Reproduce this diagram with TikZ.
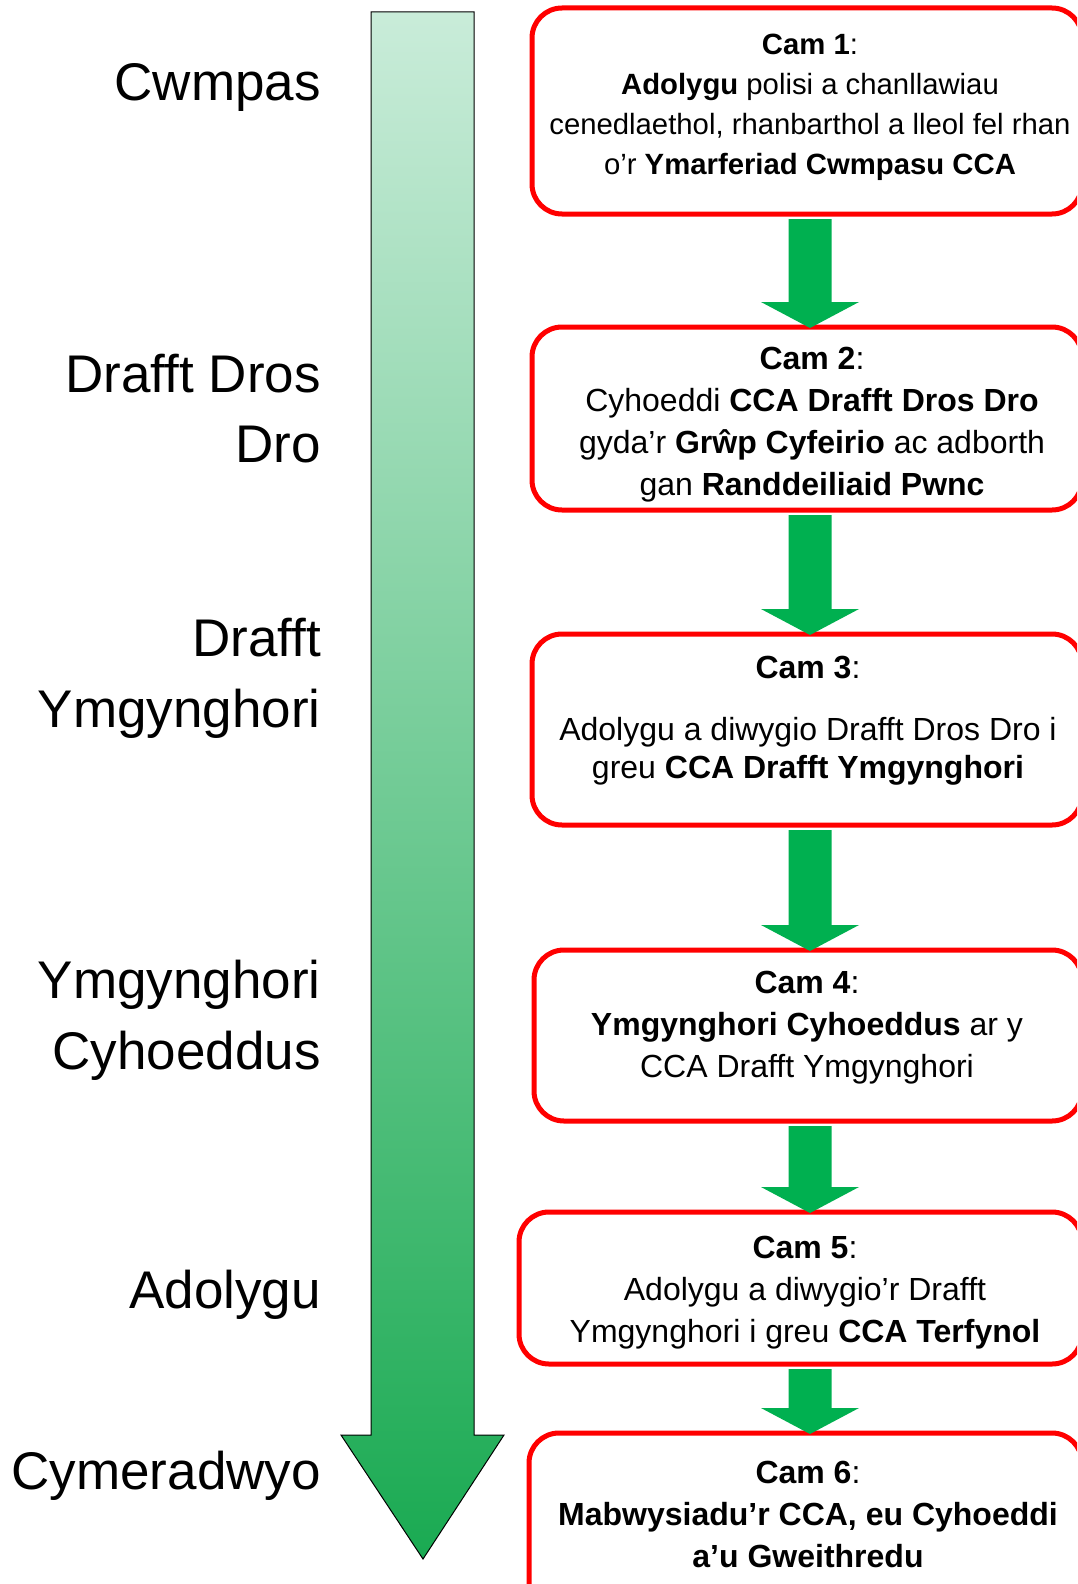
\documentclass[tikz,border=0pt]{standalone}
\usepackage{fontspec}
\setmainfont{Liberation Sans}
\usetikzlibrary{calc}
\definecolor{boxred}{RGB}{255,0,0}
\definecolor{agreen}{RGB}{0,176,80}
\definecolor{gtop}{RGB}{201,236,217}
\definecolor{gbot}{RGB}{26,170,82}
\begin{document}
\begin{tikzpicture}[x=1pt,y=-1pt,
  stepbox/.style={draw=boxred, line width=5pt, rounded corners=30pt, fill=white,
     outer sep=0pt, inner sep=0pt, anchor=north west},
  boxtext/.style={anchor=north, align=center, inner sep=0pt},
  sidelabel/.style={anchor=base east, inner sep=0pt, font=\fontsize{53}{70}\selectfont},
  garrow/.style={fill=agreen}]
\useasboundingbox (0,0) rectangle (1077,1584);
\clip (0,0) rectangle (1077,1584);
\fill[white] (0,0) rectangle (1077,1584);

% big gradient arrow
\draw[line width=1pt, top color=gtop, bottom color=gbot]
  (371,12) -- (474,12) -- (474,1435) -- (504,1435) -- (423,1559) -- (341,1435) -- (371,1435) -- cycle;

% side labels
\node[sidelabel] (l1) at (321,101) {Cwmpas};
\node[sidelabel] (l2a) at (321,392) {Drafft Dros};
\node[sidelabel] (l2b) at (321,462.5) {Dro};
\node[sidelabel] (l3a) at (321,656.5) {Drafft};
\node[sidelabel] (l3b) at (321,727) {Ymgynghori};
\node[sidelabel] (l4a) at (321,998) {Ymgynghori};
\node[sidelabel] (l4b) at (321,1069) {Cyhoeddus};
\node[sidelabel] (l5) at (321,1308) {Adolygu};
\node[sidelabel] (l6) at (321,1489) {Cymeradwyo};

% boxes
\node[stepbox, minimum width=550pt, minimum height=206pt] (b1) at (532,8) {};
\node[stepbox, minimum width=550pt, minimum height=183pt] (b2) at (532,327) {};
\node[stepbox, minimum width=550pt, minimum height=191pt] (b3) at (532,634) {};
\node[stepbox, minimum width=548pt, minimum height=171pt] (b4) at (534,950) {};
\node[stepbox, minimum width=563pt, minimum height=152pt] (b5) at (519,1212) {};
\node[stepbox, minimum width=553pt, minimum height=190pt] (b6) at (529,1433) {};

% box texts
\node[boxtext, font=\fontsize{29.3}{39.8}\selectfont] (t1) at (810,34)
  {\textbf{Cam 1}:\\ \textbf{Adolygu} polisi a chanllawiau\\ cenedlaethol, rhanbarthol a lleol fel rhan\\ o’r \textbf{Ymarferiad Cwmpasu CCA}};
\node[boxtext, font=\fontsize{32}{42.3}\selectfont] (t2) at (812,346.5)
  {\textbf{Cam 2}:\\ Cyhoeddi \textbf{CCA Drafft Dros Dro}\\ gyda’r \textbf{Grŵp Cyfeirio} ac adborth\\ gan \textbf{Randdeiliaid Pwnc}};
\node[boxtext, font=\fontsize{32}{38.5}\selectfont] (t3) at (808,656)
  {\textbf{Cam 3}:\\[23pt] Adolygu a diwygio Drafft Dros Dro i\\ greu \textbf{CCA Drafft Ymgynghori}};
\node[boxtext, font=\fontsize{32}{42.4}\selectfont] (t4) at (807,970.5)
  {\textbf{Cam 4}:\\ \textbf{Ymgynghori Cyhoeddus} ar y\\ CCA Drafft Ymgynghori};
\node[boxtext, font=\fontsize{32}{42.2}\selectfont] (t5) at (805,1235.5)
  {\textbf{Cam 5}:\\ Adolygu a diwygio’r Drafft\\ Ymgynghori i greu \textbf{CCA Terfynol}};
\node[boxtext, font=\fontsize{32}{42.4}\selectfont] (t6) at (808,1460.5)
  {\textbf{Cam 6}:\\ \textbf{Mabwysiadu’r CCA, eu Cyhoeddi}\\ \textbf{a’u Gweithredu}};

% green connector arrows
\foreach \a/\b in {b1/b2,b2/b3,b3/b4,b4/b5,b5/b6}{
  \path[garrow] let \p1=(\a.south), \p2=(\b.north) in
    (788.5pt,\y1-5pt) -- (831.5pt,\y1-5pt) -- (831.5pt,\y2+25pt) -- (859pt,\y2+25pt)
    -- (810pt,\y2-1pt) -- (761pt,\y2+25pt) -- (788.5pt,\y2+25pt) -- cycle;
}
\end{tikzpicture}
\end{document}
